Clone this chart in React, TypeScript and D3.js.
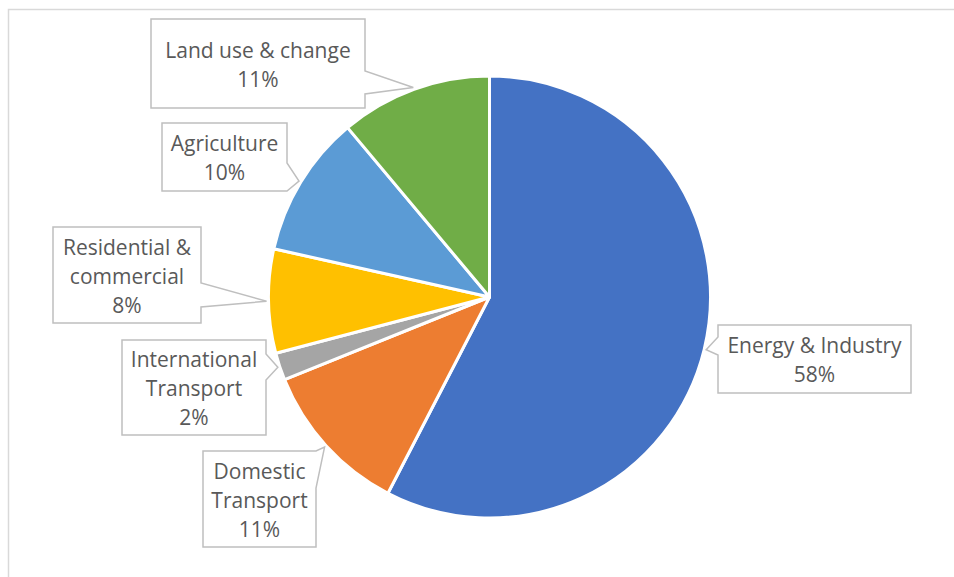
import React from "react";
import * as d3 from "d3";

const categories = [
  "Energy & Industry",
  "Domestic Transport",
  "International Transport",
  "Residential & commercial",
  "Agriculture",
  "Land use & change",
];
const values = [57.6, 11.3, 2.0, 7.6, 10.4, 11.1];
const labelLines = [
  ["Energy & Industry"],
  ["Domestic", "Transport"],
  ["International", "Transport"],
  ["Residential &", "commercial"],
  ["Agriculture"],
  ["Land use & change"],
];
const colors = ["#4472C4", "#ED7D31", "#A5A5A5", "#FFC000", "#5B9BD5", "#70AD47"];

// callout box layout: [x, y, w, h], side of pointer, base coordinates along that side
const boxes = [
  { x: 718, y: 325, w: 193, h: 68, side: "left", b0: 337, b1: 355 },
  { x: 203, y: 451, w: 113, h: 96, side: "right", b0: 451, b1: 488 },
  { x: 122, y: 340, w: 144, h: 95, side: "right", b0: 354, b1: 380 },
  { x: 53, y: 227, w: 148, h: 96, side: "right", b0: 283, b1: 307 },
  { x: 162, y: 123, w: 125, h: 68, side: "right", b0: 163, b1: 191 },
  { x: 151, y: 19, w: 214, h: 89, side: "right", b0: 71, b1: 94 },
];

const W = 954;
const H = 577;
const cx = 489.5;
const cy = 297;
const R = 221;

export default function App() {
  const pie = d3.pie<number>().sort(null).value((d) => d)(values);
  const arc = d3.arc<d3.PieArcDatum<number>>().innerRadius(0).outerRadius(R);
  const total = d3.sum(values);

  const callout = (i: number) => {
    const b = boxes[i];
    const a = (pie[i].startAngle + pie[i].endAngle) / 2;
    const tr = R + 2;
    const tx = cx + tr * Math.sin(a);
    const ty = cy - tr * Math.cos(a);
    const x0 = b.x, y0 = b.y, x1 = b.x + b.w, y1 = b.y + b.h;
    let pts: [number, number][];
    if (b.side === "right") {
      pts = [[x0, y0], [x1, y0], [x1, b.b0], [tx, ty], [x1, b.b1], [x1, y1], [x0, y1]];
    } else {
      pts = [[x0, y0], [x1, y0], [x1, y1], [x0, y1], [x0, b.b1], [tx, ty], [x0, b.b0]];
    }
    const d = "M" + pts.map((p) => p.join(",")).join("L") + "Z";
    const lines = [...labelLines[i], Math.round((values[i] / total) * 100) + "%"];
    const n = lines.length;
    const lh = 29;
    const mid = b.y + b.h / 2;
    return (
      <g key={"c" + i}>
        <path d={d} fill="#fff" stroke="#BFBFBF" strokeWidth={1.5} />
        {lines.map((t, j) => (
          <text
            key={j}
            x={b.x + b.w / 2}
            y={mid + (j - (n - 1) / 2) * lh + 8.5}
            textAnchor="middle"
            fontFamily="'Open Sans', sans-serif"
            fontSize={21}
            fill="#595959"
          >
            {t}
          </text>
        ))}
      </g>
    );
  };

  return (
    <svg
      width={W}
      height={H}
      style={{ position: "absolute", left: 0, top: 0, background: "#fff" }}
    >
      <rect x={0} y={0} width={W} height={H} fill="#fff" />
      <rect x={8.5} y={9.5} width={W + 20} height={H + 20} fill="#fff" stroke="#D9D9D9" strokeWidth={1.5} />
      <g transform={`translate(${cx},${cy})`}>
        {pie.map((p, i) => (
          <path key={categories[i]} d={arc(p) || ""} fill={colors[i]} stroke="#fff" strokeWidth={3} strokeLinejoin="round" />
        ))}
      </g>
      {pie.map((_, i) => callout(i))}
    </svg>
  );
}
